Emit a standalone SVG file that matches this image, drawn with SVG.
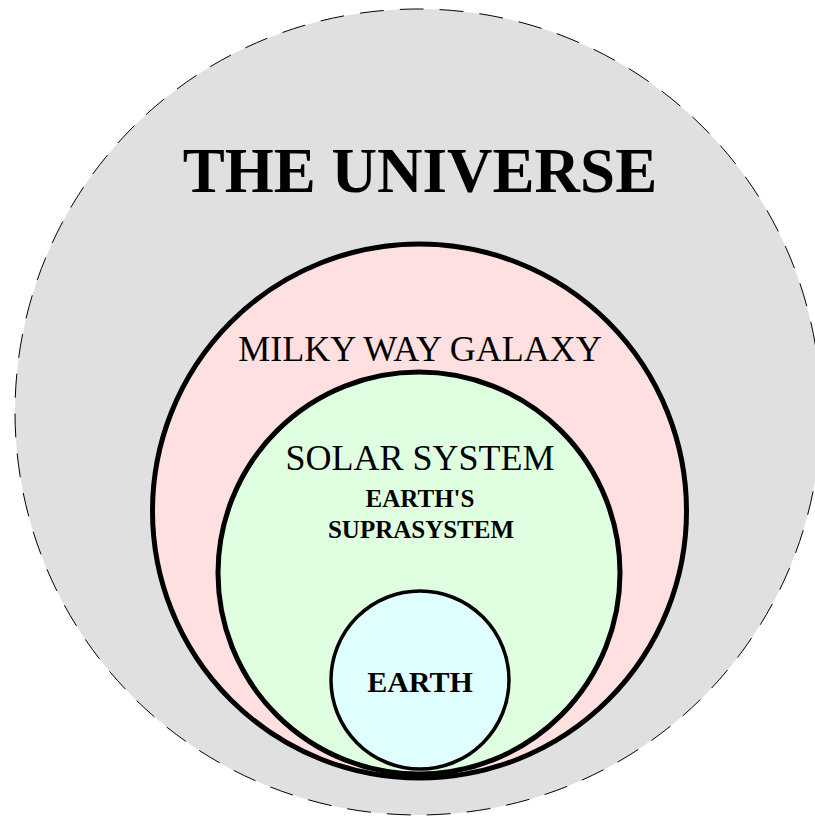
<svg xmlns="http://www.w3.org/2000/svg" width="815" height="817" viewBox="0 0 815 817">
<style>
.lbl{font-family:"Liberation Serif","Times New Roman",serif;fill:#000;text-anchor:middle}
.b{font-weight:bold}
.ring{stroke:#000;stroke-width:5}
</style>
<rect width="815" height="817" fill="#fff"/>
<g id="universe">
<circle cx="418" cy="412" r="403" fill="#e0e0e0" stroke="#000" stroke-width="1" stroke-dasharray="24 16"/>
<text class="lbl b" x="420" y="192" font-size="63">THE UNIVERSE</text>
</g>
<g id="milky-way">
<circle class="ring" cx="419.5" cy="511" r="267" fill="#ffe0e0"/>
<text class="lbl" x="420" y="361" font-size="36">MILKY WAY GALAXY</text>
</g>
<g id="solar-system">
<circle class="ring" cx="419" cy="573" r="201" fill="#e0ffe0"/>
<text class="lbl" x="420" y="470" font-size="36">SOLAR SYSTEM</text>
<text class="lbl b" x="420" y="507" font-size="25">EARTH'S</text>
<text class="lbl b" x="421" y="538" font-size="25">SUPRASYSTEM</text>
</g>
<g id="earth">
<circle cx="420" cy="680" r="89" fill="#e0ffff" stroke="#000" stroke-width="3.5"/>
<text class="lbl b" x="420" y="692" font-size="30">EARTH</text>
</g>
<g id="connectors"/>
</svg>
